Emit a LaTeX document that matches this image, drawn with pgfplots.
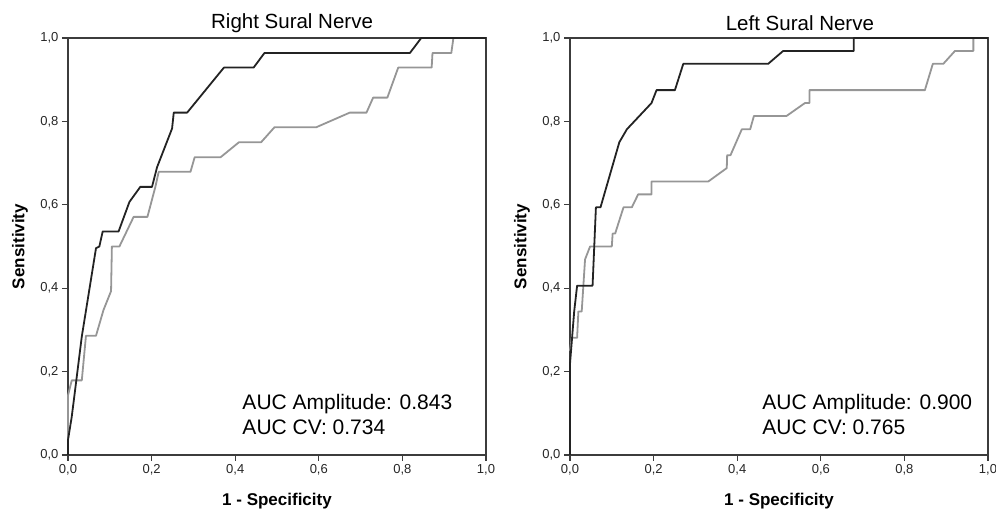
\documentclass[border=0pt]{standalone}
\usepackage{pgfplots}
\pgfplotsset{compat=1.18}
\usepackage{fontspec}
\setmainfont{Liberation Sans}

\definecolor{ampcol}{RGB}{35,35,35}
\definecolor{cvcol}{RGB}{150,150,150}
\definecolor{axcol}{RGB}{60,60,60}

\pgfplotsset{
  rocaxis/.style={
    scale only axis, width=418pt, height=417pt,
    xmin=0, xmax=1, ymin=0, ymax=1,
    xtick={0,0.2,...,1}, ytick={0,0.2,...,1},
    tick align=outside, tick pos=left,
    major tick length=6pt,
    axis line style={axcol, line width=1.3pt},
    every tick/.style={axcol, line width=1.1pt},
    /pgf/number format/use comma,
    /pgf/number format/fixed,
    /pgf/number format/fixed zerofill,
    /pgf/number format/precision=1,
    /pgf/number format/assume math mode=true,
    ticklabel style={font=\fontsize{13}{15}\selectfont, text=black!85},
    xlabel={\bfseries 1 - Specificity},
    ylabel={\bfseries Sensitivity},
    xlabel style={at={(axis description cs:0.5,-0.11)}, anchor=center, font=\fontsize{17}{19}\selectfont},
    ylabel style={at={(axis description cs:-0.115,0.5)}, anchor=center, rotate=0, font=\fontsize{17}{19}\selectfont},
    title style={anchor=center, font=\fontsize{20.5}{23}\selectfont},
    clip=false,
  },
  amp/.style={ampcol, line width=1.8pt, line join=round},
  cv/.style={cvcol, line width=1.8pt, line join=round},
}

\begin{document}
\begin{tikzpicture}
\useasboundingbox (-68pt,-55pt) rectangle (928pt,455pt);

% right sural nerve
\begin{axis}[rocaxis, title={Right Sural Nerve}, title style={at={(axis description cs:0.536,1.022)}}]
\addplot[cv] coordinates {(0,0)(0,0.143)(0.009,0.179)(0.033,0.179)(0.043,0.286)(0.067,0.286)(0.085,0.348)(0.103,0.393)(0.105,0.5)(0.123,0.5)(0.157,0.571)(0.19,0.571)(0.209,0.643)(0.217,0.679)(0.293,0.679)(0.303,0.714)(0.365,0.714)(0.409,0.75)(0.462,0.75)(0.494,0.786)(0.594,0.786)(0.674,0.821)(0.714,0.821)(0.73,0.857)(0.764,0.857)(0.79,0.929)(0.87,0.929)(0.872,0.964)(0.917,0.964)(0.922,1)(1,1)};
\addplot[amp] coordinates {(0,0)(0,0.036)(0.009,0.092)(0.033,0.284)(0.067,0.496)(0.075,0.5)(0.083,0.536)(0.121,0.536)(0.147,0.607)(0.173,0.643)(0.201,0.643)(0.213,0.69)(0.249,0.783)(0.253,0.821)(0.285,0.821)(0.373,0.929)(0.444,0.929)(0.47,0.964)(0.818,0.964)(0.845,1)(1,1)};
\node[anchor=base west, font=\fontsize{21}{24}\selectfont] at (axis cs:0.409,0.110) {AUC Amplitude: 0.843};
\node[anchor=base west, font=\fontsize{21}{24}\selectfont] at (axis cs:0.409,0.048) {AUC CV: 0.734};
\end{axis}

% left sural nerve
\begin{axis}[rocaxis, xshift=502pt, title={Left Sural Nerve}, title style={at={(axis description cs:0.55,1.022)}}]
\addplot[cv] coordinates {(0,0.25)(0.004,0.281)(0.017,0.281)(0.02,0.344)(0.028,0.344)(0.036,0.469)(0.048,0.5)(0.1,0.5)(0.102,0.531)(0.108,0.531)(0.128,0.594)(0.148,0.594)(0.163,0.625)(0.195,0.625)(0.195,0.656)(0.331,0.656)(0.375,0.688)(0.376,0.719)(0.384,0.719)(0.411,0.781)(0.431,0.781)(0.44,0.813)(0.518,0.813)(0.562,0.844)(0.573,0.844)(0.573,0.875)(0.849,0.875)(0.868,0.938)(0.893,0.938)(0.921,0.969)(0.965,0.969)(0.965,1)(1,1)};
\addplot[amp] coordinates {(0,0)(0,0.219)(0.01,0.344)(0.017,0.406)(0.054,0.406)(0.062,0.594)(0.073,0.594)(0.118,0.75)(0.136,0.781)(0.195,0.844)(0.207,0.875)(0.251,0.875)(0.271,0.938)(0.474,0.938)(0.51,0.969)(0.679,0.969)(0.679,1)(1,1)};
\node[anchor=base west, font=\fontsize{21}{24}\selectfont] at (axis cs:0.452,0.110) {AUC Amplitude: 0.900};
\node[anchor=base west, font=\fontsize{21}{24}\selectfont] at (axis cs:0.452,0.048) {AUC CV: 0.765};
\end{axis}
\end{tikzpicture}
\end{document}
